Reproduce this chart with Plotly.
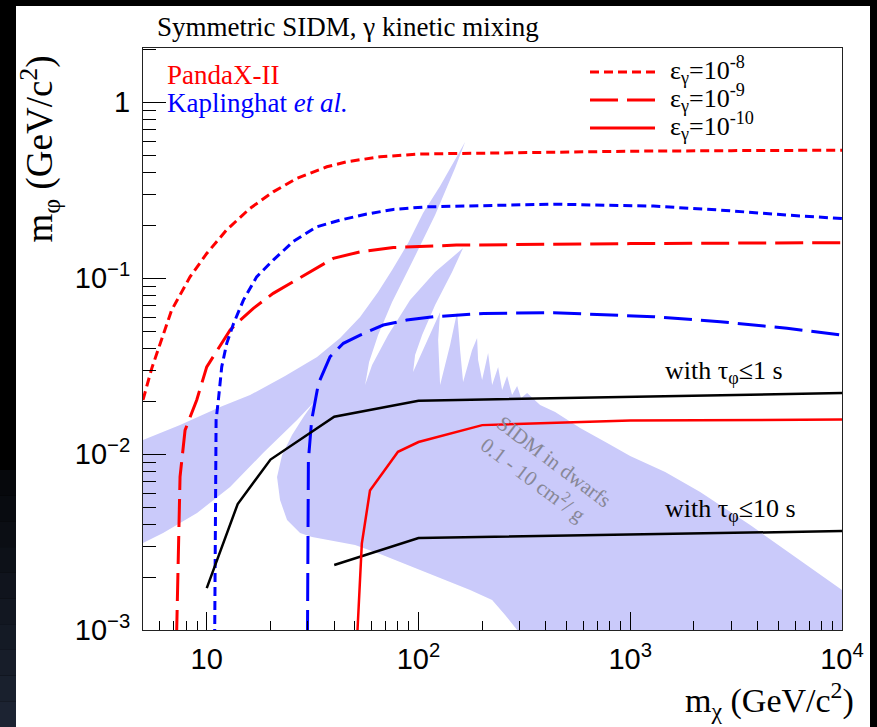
import math
import plotly.graph_objects as go

# ---------------------------------------------------------------------------
# Exclusion curves: dark-matter mass m_chi vs mediator mass m_phi (GeV/c^2)
# ---------------------------------------------------------------------------
# PandaX-II, eps_gamma = 1e-8
pandax_e8_mchi = [5.0, 5.5, 6.83, 8.34, 10, 12.4, 16, 20.6, 26.6, 36.9, 45.8, 65.9, 100, 300, 1000, 3000, 10000]
pandax_e8_mphi = [0.0203, 0.0307, 0.0658, 0.1016, 0.138, 0.1875, 0.249, 0.309, 0.368, 0.429, 0.458, 0.489, 0.507, 0.518, 0.526, 0.530, 0.533]

# PandaX-II, eps_gamma = 1e-9
pandax_e9_mchi = [7.2, 7.48, 7.9, 8.97, 10, 12.9, 14.4, 16.6, 20.6, 39.6, 53, 76, 151, 1000, 10000]
pandax_e9_mphi = [0.0009, 0.00743, 0.01367, 0.0203, 0.0313, 0.0507, 0.0577, 0.0673, 0.0819, 0.1294, 0.141, 0.149, 0.154, 0.157, 0.159]

# PandaX-II, eps_gamma = 1e-10
pandax_e10_mchi = [51.3, 54, 59, 80, 100, 200, 1000, 10000]
pandax_e10_mphi = [0.0009, 0.0031, 0.0062, 0.0103, 0.0117, 0.0146, 0.0155, 0.0157]

# Kaplinghat et al., eps_gamma = 1e-8
kap_e8_mchi = [10.9, 11.07, 11.35, 11.77, 12.43, 13.4, 14.9, 17.2, 20.6, 25.7, 33.1, 42.7, 57, 76, 109, 434, 1288, 2661, 5500, 10000]
kap_e8_mphi = [0.0009, 0.0156, 0.0203, 0.0313, 0.0426, 0.0553, 0.075, 0.1016, 0.1265, 0.162, 0.1956, 0.2136, 0.231, 0.2456, 0.254, 0.263, 0.2565, 0.2434, 0.228, 0.218]

# Kaplinghat et al., eps_gamma = 1e-9
kap_e9_mchi = [29.9, 30.2, 31.3, 33.7, 38.2, 44.2, 53, 68.2, 88, 117.5, 203, 434, 1288, 2661, 5500, 10000]
kap_e9_mphi = [0.0009, 0.00925, 0.0156, 0.0252, 0.0357, 0.0426, 0.0474, 0.0541, 0.0577, 0.0603, 0.063, 0.0635, 0.0603, 0.0565, 0.0518, 0.0474]

# Mediator lifetime bounds
tau1_mchi = [10, 14, 20, 40, 100, 10000]
tau1_mphi = [0.00173, 0.0052, 0.0093, 0.0163, 0.0201, 0.0222]
tau10_mchi = [40, 100, 10000]
tau10_mphi = [0.00234, 0.00333, 0.00365]

# SIDM region preferred by dwarf galaxies (0.1 - 10 cm^2/g), outline
sidm_mchi = [5.0, 7.48, 11.56, 16.02, 23.44, 33.19, 42.63, 52.99, 64.46, 75.05, 89.31, 105.1, 126.5, 148.9, 166.0,
             148.9, 119.8, 93.29, 75.05, 64.46, 58.44, 55.95,
             60.38, 71.85, 91.26, 119.8, 144.1, 162.4,
             144.1, 119.8, 104.0, 96.36, 94.29,
             107.4, 126.5, 123.8, 126.5,
             141.0, 152.2, 157.2, 162.4,
             179.1, 189.1, 191.2, 199.7,
             213.2, 222.7, 237.7, 248.3, 262.1, 276.7, 292.3, 305.2, 325.8,
             375.3, 441.9, 579.9, 778.2, 999, 1462, 2139, 3685, 6346, 10000, 10000,
             292.3, 256.5, 222.7, 175.3, 126.5, 91.26, 65.87, 50.17, 38.22, 31.43, 27.59, 23.95, 22.19, 21.48,
             22.69, 25.28, 28.82, 32.13,
             26.7, 18.45, 12.89, 9.0, 6.22, 5.0]
sidm_mphi = [0.01201, 0.01462, 0.0185, 0.02164, 0.02774, 0.03557, 0.0456, 0.06003, 0.08325, 0.111, 0.1581, 0.234, 0.3332, 0.4683, 0.5925,
             0.4217, 0.2281, 0.1233, 0.07305, 0.04744, 0.03332, 0.02466,
             0.03204, 0.04744, 0.07499, 0.1082, 0.1316, 0.1481,
             0.1082, 0.07024, 0.04744, 0.03652, 0.02923,
             0.04161, 0.06408, 0.04442, 0.02466,
             0.04161, 0.06408, 0.039, 0.02565,
             0.039, 0.0456, 0.0342, 0.02633,
             0.0375, 0.02466, 0.03121, 0.0231, 0.02774, 0.02164, 0.02434, 0.0208, 0.02222,
             0.019, 0.01732, 0.01405, 0.01155, 0.009741, 0.0079, 0.006083, 0.003949, 0.0025, 0.001687, 0.001,
             0.001, 0.001217, 0.00148, 0.001687, 0.001975, 0.00231, 0.002702, 0.003041, 0.003246, 0.003376, 0.003557, 0.004217, 0.005477, 0.0074,
             0.009869, 0.01282, 0.01644, 0.01975,
             0.0156, 0.01013, 0.006494, 0.004622, 0.003557, 0.00312]

# Axis ticks
x_major = [10, 100, 1000, 10000]
x_major_text = ["10", "10<sup>2</sup>", "10<sup>3</sup>", "10<sup>4</sup>"]
y_major = [0.001, 0.01, 0.1, 1]
y_major_text = ["10<sup>\u22123</sup>", "10<sup>\u22122</sup>", "10<sup>\u22121</sup>", "1"]

X_RANGE = (5.0, 10000.0)
Y_RANGE = (0.001, 2.03)

x_minor = [k * d for d in (1, 10, 100, 1000) for k in range(2, 10) if X_RANGE[0] < k * d < X_RANGE[1]]
y_minor = [k * d for d in (0.001, 0.01, 0.1, 1) for k in range(2, 10) if k * d < Y_RANGE[1]]

# ---------------------------------------------------------------------------
W, H = 877, 727
L, R, T, B = 143, 35, 48, 97
PW, PH = W - L - R, H - T - B


def pxx(x):
    """pixel column -> paper x"""
    return (x - L) / PW


def pyy(y):
    """pixel row -> paper y"""
    return (H - B - y) / PH


RED, BLUE, BLACK = "#ff0000", "#0000ff", "#000000"
SHADE = "rgb(202,202,250)"
DOT = "9px,5px"
DASH = "28px,9px"
SERIF = "Liberation Serif"
SANS = "Liberation Sans"

fig = go.Figure()

fig.add_trace(go.Scatter(x=sidm_mchi, y=sidm_mphi, mode="lines", fill="toself",
                         fillcolor=SHADE, line=dict(width=0), hoverinfo="skip"))


def curve(x, y, color, dash, width):
    fig.add_trace(go.Scatter(x=x, y=y, mode="lines",
                             line=dict(color=color, dash=dash, width=width)))


curve(pandax_e8_mchi, pandax_e8_mphi, RED, DOT, 3)
curve(pandax_e9_mchi, pandax_e9_mphi, RED, DASH, 3)
curve(kap_e8_mchi, kap_e8_mphi, BLUE, DOT, 3)
curve(kap_e9_mchi, kap_e9_mphi, BLUE, DASH, 3)
curve(tau1_mchi, tau1_mphi, BLACK, "solid", 2.5)
curve(tau10_mchi, tau10_mphi, BLACK, "solid", 2.5)
curve(pandax_e10_mchi, pandax_e10_mphi, RED, "solid", 2.5)

shapes = []
# dark surround and white canvas
shapes.append(dict(type="rect", xref="paper", yref="paper", layer="below",
                   x0=pxx(16), x1=pxx(870), y0=pyy(H), y1=pyy(6),
                   fillcolor="white", line=dict(width=0)))
# soft bluish gradient in the lower-left corner of the surround
n_strip = 10
for i in range(n_strip):
    t = (i + 1) / n_strip
    c = (int(4 + 24 * t), int(5 + 30 * t), int(8 + 42 * t))
    y0 = 470 + (H - 470) * i / n_strip
    y1 = 470 + (H - 470) * (i + 1) / n_strip
    shapes.append(dict(type="rect", xref="paper", yref="paper", layer="below",
                       x0=pxx(0), x1=pxx(16), y0=pyy(y1), y1=pyy(y0),
                       fillcolor="rgb(%d,%d,%d)" % c, line=dict(width=0)))

# legend: line sample + label per coupling value
legend_rows = [(72, DOT, "10<sup>-8</sup>"),
               (100, DASH, "10<sup>-9</sup>"),
               (128, "solid", "10<sup>-10</sup>")]
annotations = []
for yrow, dsh, exp in legend_rows:
    shapes.append(dict(type="line", xref="paper", yref="paper",
                       x0=pxx(590), x1=pxx(655), y0=pyy(yrow), y1=pyy(yrow),
                       line=dict(color=RED, width=3, dash=dsh)))
    annotations.append(dict(xref="paper", yref="paper", x=pxx(668), y=pyy(yrow - 2),
                            xanchor="left", yanchor="middle", showarrow=False,
                            text="\u03b5<sub>\u03b3</sub>=" + exp,
                            font=dict(family=SERIF, size=26, color="black")))

annotations += [
    dict(xref="paper", yref="paper", x=pxx(155), y=pyy(27), xanchor="left", yanchor="middle",
         showarrow=False, text="Symmetric SIDM, \u03b3 kinetic mixing",
         font=dict(family=SERIF, size=27, color="black")),
    dict(xref="paper", yref="paper", x=pxx(165), y=pyy(75), xanchor="left", yanchor="middle",
         showarrow=False, text="PandaX-II", font=dict(family=SERIF, size=27, color=RED)),
    dict(xref="paper", yref="paper", x=pxx(165), y=pyy(103), xanchor="left", yanchor="middle",
         showarrow=False, text="Kaplinghat <i>et al.</i>", font=dict(family=SERIF, size=27, color=BLUE)),
    dict(xref="paper", yref="paper", x=pxx(663), y=pyy(372), xanchor="left", yanchor="middle",
         showarrow=False, text="with \u03c4<sub>\u03c6</sub>\u22641 s",
         font=dict(family=SERIF, size=26, color="black")),
    dict(xref="paper", yref="paper", x=pxx(663), y=pyy(510), xanchor="left", yanchor="middle",
         showarrow=False, text="with \u03c4<sub>\u03c6</sub>\u226410 s",
         font=dict(family=SERIF, size=26, color="black")),
    dict(xref="paper", yref="paper", x=pxx(546), y=pyy(472), xanchor="center", yanchor="middle",
         showarrow=False, textangle=37, align="left",
         text="SIDM in dwarfs<br>0.1 - 10 cm<sup>2</sup>/ g",
         font=dict(family=SERIF, size=21, color="rgb(135,135,150)")),
    dict(xref="paper", yref="paper", x=pxx(856), y=pyy(700), xanchor="right", yanchor="middle",
         showarrow=False, text="m<sub>\u03c7</sub> (GeV/c<sup>2</sup>)",
         font=dict(family=SERIF, size=34, color="black")),
    dict(xref="paper", yref="paper", x=pxx(40), y=pyy(54), xanchor="center", yanchor="top",
         showarrow=False, textangle=-90, text="m<sub>\u03c6</sub> (GeV/c<sup>2</sup>)",
         font=dict(family=SERIF, size=37, color="black")),
]

axis_common = dict(type="log", showgrid=False, zeroline=False, showline=True,
                   linecolor="#222", linewidth=1, mirror=True, ticks="inside",
                   tickcolor="black", tickwidth=1,
                   tickfont=dict(family=SANS, size=29, color="black"))

fig.update_xaxes(range=[math.log10(X_RANGE[0]), math.log10(X_RANGE[1])],
                 tickmode="array", tickvals=x_major, ticktext=x_major_text,
                 ticklen=18, ticklabelstandoff=3,
                 minor=dict(ticks="inside", ticklen=9, tickcolor="black", tickwidth=1,
                            tickmode="array", tickvals=x_minor, showgrid=False),
                 **axis_common)
fig.update_yaxes(range=[math.log10(Y_RANGE[0]), math.log10(Y_RANGE[1])],
                 tickmode="array", tickvals=y_major, ticktext=y_major_text,
                 ticklen=23, ticklabelstandoff=6,
                 minor=dict(ticks="inside", ticklen=13, tickcolor="black", tickwidth=1,
                            tickmode="array", tickvals=y_minor, showgrid=False),
                 **axis_common)

fig.update_layout(width=W, height=H, margin=dict(l=L, r=R, t=T, b=B, pad=0),
                  paper_bgcolor="black", plot_bgcolor="white", showlegend=False,
                  shapes=shapes, annotations=annotations)

fig.write_html("out.html")
